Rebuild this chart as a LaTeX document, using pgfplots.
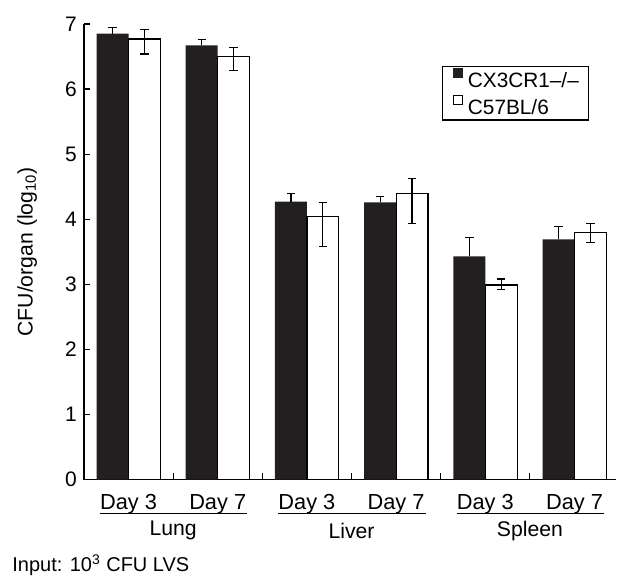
\documentclass[border=0pt]{standalone}
\usepackage{pgfplots}
\pgfplotsset{compat=1.18}
\usepackage{fontspec}
\setmainfont{Liberation Sans}
\definecolor{barblack}{HTML}{231F20}
\begin{document}
\begin{tikzpicture}
\begin{axis}[
  scale only axis,
  width=266.5pt, height=228pt,
  xmin=-0.5, xmax=5.47,
  ymin=0, ymax=7,
  clip=false,
  axis lines*=left,
  axis line style={black, line width=0.6pt},
  xtick pos=lower, ytick pos=left,
  ytick={0,1,...,7},
  xtick={0,1,2,3,4,5},
  xticklabels={Day 3,Day 7,Day 3,Day 7,Day 3,Day 7},
  major x tick style={draw=none},
  major tick length=3pt,
  tick align=inside,
  ytick align=inside,
  tick style={black, line width=0.6pt},
  y tick label style={font=\fontsize{10.5}{12}\selectfont},
  x tick label style={font=\fontsize{10.9}{13}\selectfont, yshift=-1pt},
  /pgf/number format/assume math mode=true,
  ylabel={CFU/organ (log\textsubscript{10})},
  ylabel style={font=\fontsize{10.6}{12}\selectfont, at={(axis description cs:0,0.5)}, anchor=south, yshift=20pt},
  ybar, bar width=16pt,
  legend style={at={(0.673,0.908)}, anchor=north west, draw=black, line width=0.6pt,
    font=\fontsize{10.4}{13}\selectfont, inner xsep=5pt, inner ysep=0pt, row sep=0pt,
    nodes={inner sep=0pt, text height=10.5pt, text depth=2.9pt},
    /tikz/every odd column/.append style={column sep=2.5pt}},
  legend cell align=left,
]
\addplot[bar shift=-8pt, fill=barblack, draw=none,
  legend image code/.code={\fill[barblack] (0pt,1pt) rectangle (5pt,6pt);},
  error bars/.cd, y dir=plus, y explicit,
  error bar style={black, line width=0.6pt},
  error mark options={rotate=90, mark size=2.1pt, black, line width=0.6pt}]
coordinates {
 (0,6.85) +- (0,0.09)
 (1,6.67) +- (0,0.09)
 (2,4.27) +- (0,0.13)
 (3,4.26) +- (0,0.09)
 (4,3.43) +- (0,0.29)
 (5,3.69) +- (0,0.20)
};
\addlegendentry{CX3CR1--/--}
\addplot[bar shift=8pt, fill=white, draw=black, line width=0.6pt,
  legend image code/.code={\draw[black, line width=0.45pt, fill=white] (0.2pt,1.2pt) rectangle (4.8pt,5.8pt);},
  error bars/.cd, y dir=both, y explicit,
  error bar style={black, line width=0.6pt},
  error mark options={rotate=90, mark size=2.1pt, black, line width=0.6pt}]
coordinates {
 (0,6.77) += (0,0.15) -= (0,0.23)
 (1,6.50) += (0,0.14) -= (0,0.21)
 (2,4.04) += (0,0.22) -= (0,0.46)
 (3,4.40) += (0,0.23) -= (0,0.47)
 (4,2.99) += (0,0.09) -= (0,0.07)
 (5,3.79) += (0,0.14) -= (0,0.15)
};
\addlegendentry{C57BL/6}
\draw[line width=0.6pt] (axis cs:0.5,0) -- ++(0pt,3.5pt);
\draw[line width=0.6pt] (axis cs:1.5,0) -- ++(0pt,3.5pt);
\draw[line width=0.6pt] (axis cs:2.5,0) -- ++(0pt,3.5pt);
\draw[line width=0.6pt] (axis cs:3.5,0) -- ++(0pt,3.5pt);
\draw[line width=0.6pt] (axis cs:4.5,0) -- ++(0pt,3.5pt);
\draw[line width=0.6pt] ([yshift=-17pt]axis cs:-0.32,0) -- ([yshift=-17pt]axis cs:1.33,0);
\draw[line width=0.6pt] ([yshift=-17pt]axis cs:1.68,0) -- ([yshift=-17pt]axis cs:3.33,0);
\draw[line width=0.6pt] ([yshift=-17pt]axis cs:3.68,0) -- ([yshift=-17pt]axis cs:5.33,0);
\node[font=\fontsize{10.6}{13}\selectfont] at ([yshift=-25.7pt]axis cs:0.5,0) {Lung};
\node[font=\fontsize{10.6}{13}\selectfont] at ([yshift=-25.7pt]axis cs:2.5,0) {Liver};
\node[font=\fontsize{10.6}{13}\selectfont] at ([yshift=-25.7pt]axis cs:4.5,0) {Spleen};
\node[font=\fontsize{10}{12}\selectfont, anchor=west, inner sep=0pt] at ([xshift=-36pt,yshift=-43pt]axis cs:-0.5,0) {Input: 10\textsuperscript{3} CFU LVS};
\path ([xshift=-42pt,yshift=12pt]rel axis cs:0,1) rectangle ([yshift=-49.5pt]rel axis cs:1,0);
\end{axis}
\end{tikzpicture}
\end{document}
